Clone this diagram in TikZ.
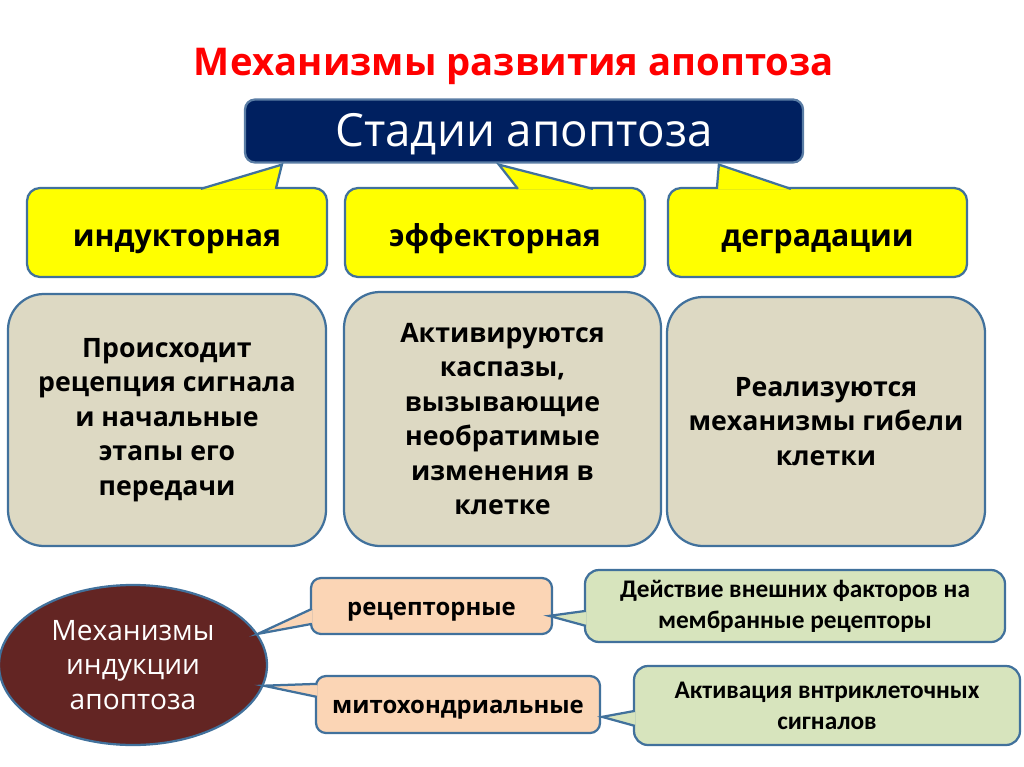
\documentclass[tikz,border=0pt]{standalone}
\usepackage{fontspec}
\setmainfont{Open Sans}
\newfontfamily\calibfont{Carlito}
\usetikzlibrary{shapes.geometric, calc}
\definecolor{apred}{HTML}{FF0000}
\definecolor{apnavy}{HTML}{002060}
\definecolor{apnavyedge}{HTML}{5A7DA5}
\definecolor{apedge}{HTML}{41719C}
\definecolor{apyellow}{HTML}{FFFF00}
\definecolor{apgray}{HTML}{DDD9C3}
\definecolor{apmaroon}{HTML}{632523}
\definecolor{appeach}{HTML}{FBD5B5}
\definecolor{apgreen}{HTML}{D7E4BD}
\newlength\pxu
\setlength\pxu{0.025cm}

\begin{document}
\begin{tikzpicture}[
  x=0.025cm, y=-0.025cm,
  every node/.style={inner sep=0pt, align=center},
  edge/.style={draw=apedge, line width=1.6pt},
  stagebox/.style={rectangle, rounded corners=10\pxu, fill=apnavy, draw=apnavyedge, line width=1.6pt, text=white, font=\fontsize{32.5}{36}\selectfont, text height=29pt, text depth=6.5pt},
  phasebox/.style={rectangle, rounded corners=13\pxu, fill=apyellow, edge, text height=25pt, text depth=4.5pt, font=\bfseries\fontsize{21.5}{25}\selectfont},
  descbox/.style={rectangle, rounded corners=36\pxu, fill=apgray, edge, font=\bfseries\fontsize{19}{24.5}\selectfont},
  mechellipse/.style={ellipse, fill=apmaroon, edge, text=white, font=\fontsize{20}{24.5}\selectfont},
  kindbox/.style={rectangle, rounded corners=10\pxu, fill=appeach, edge, text height=16.5pt, text depth=3.5pt, font=\bfseries\fontsize{17}{20}\selectfont},
  notebox/.style={rectangle, rounded corners=14\pxu, fill=apgreen, edge, font=\calibfont\bfseries\fontsize{18}{22}\selectfont},
]
\useasboundingbox (0,0) rectangle (1024,767);

% Title
\node[text=apred, font=\bfseries\fontsize{27.2}{32}\selectfont, text height=24pt, text depth=5.5pt] (title) at (514,62) {Механизмы развития апоптоза};

% Stages
\node[stagebox, minimum width=558\pxu, minimum height=63\pxu] (stages) at (524,131) {Стадии апоптоза};
\node[phasebox, minimum width=300\pxu, minimum height=89\pxu] (induct) at (177,232.5) {индукторная};
\node[phasebox, minimum width=300\pxu, minimum height=89\pxu] (effect) at (495,232.5) {эффекторная};
\node[phasebox, minimum width=299\pxu, minimum height=89\pxu] (degr) at (817.5,232.5) {деградации};

% Callout pointers to the stages box
\path[fill=apyellow, edge] ($(induct.north west)+(175,2)$) -- ($(stages.south west)+(38,1)$) -- ($(induct.north west)+(250,2)$);
\path[fill=apyellow, edge] ($(effect.north west)+(174,2)$) -- ($(stages.south west)+(255,1)$) -- ($(effect.north west)+(249,2)$);
\path[fill=apyellow, edge] ($(degr.north west)+(50,2)$) -- ($(stages.south west)+(475,1)$) -- ($(degr.north west)+(124,2)$);

% Descriptions
\node[descbox, minimum width=318\pxu, minimum height=252\pxu] (descA) at (167,420) {Происходит\\рецепция сигнала\\и начальные\\этапы его\\передачи};
\node[descbox, minimum width=317\pxu, minimum height=254\pxu] (descB) at (502.5,419) {Активируются\\каспазы,\\вызывающие\\необратимые\\изменения в\\клетке};
\node[descbox, minimum width=318\pxu, minimum height=249\pxu] (descC) at (826,421.5) {Реализуются\\механизмы гибели\\клетки};

% Induction mechanisms
\node[mechellipse, minimum width=268\pxu, minimum height=160\pxu] (mech) at (133,665) {Механизмы\\индукции\\апоптоза};
\node[kindbox, minimum width=241\pxu, minimum height=56\pxu] (recep) at (431.5,606) {рецепторные};
\node[kindbox, minimum width=284\pxu, minimum height=57\pxu] (mito) at (458,704.5) {митохондриальные};
\path[fill=appeach, edge] ($(recep.north west)+(2,32)$) -- (mech.14) -- ($(recep.north west)+(2,47)$);
\path[fill=appeach, edge] ($(mito.north west)+(2,9)$) -- (mech.-9) -- ($(mito.north west)+(2,22)$);

\node[notebox, minimum width=420\pxu, minimum height=72\pxu] (extf) at (795,606) {Действие внешних факторов на\\мембранные рецепторы};
\node[notebox, minimum width=386\pxu, minimum height=79\pxu] (intf) at (827,705.5) {Активация внтриклеточных\\сигналов};
\path[fill=apgreen, edge] ($(extf.north west)+(2,42)$) -- ($(recep.north east)+(-4,39)$) -- ($(extf.north west)+(2,57)$);
\path[fill=apgreen, edge] ($(intf.north west)+(2,46)$) -- ($(mito.north east)+(1,42)$) -- ($(intf.north west)+(2,61)$);

\end{tikzpicture}
\end{document}
